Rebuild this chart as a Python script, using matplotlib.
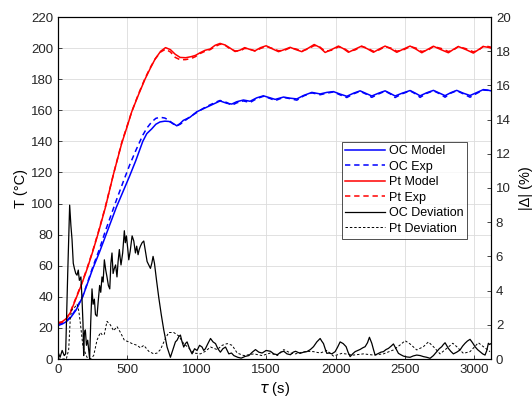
import numpy as np
import matplotlib
matplotlib.use('Agg')
import matplotlib.pyplot as plt
from matplotlib.lines import Line2D

plt.rcParams['font.family'] = ['Liberation Sans', 'DejaVu Sans']
plt.rcParams['mathtext.fontset'] = 'dejavusans'

# Pt model / exp temperature (left axis, degC)
t_pt = [0, 30, 60, 90, 130, 170, 210, 250, 290, 340, 400, 460, 500, 531, 580, 627, 665, 700, 740, 775,
        810, 845, 880, 920, 960, 990, 1024, 1060, 1096, 1132, 1168, 1204, 1240, 1276, 1312, 1345, 1380,
        1420, 1460, 1500, 1545, 1589, 1630, 1673, 1715, 1757, 1800, 1846, 1885, 1925, 1970, 2021, 2057,
        2093, 2140, 2188, 2230, 2273, 2315, 2357, 2400, 2441, 2490, 2537, 2580, 2621, 2665, 2705, 2760,
        2813, 2850, 2885, 2940, 2993, 3030, 3065, 3100, 3120]
pt_model = [23.4, 24, 26, 30, 39, 48, 58, 69, 81, 97, 119, 139, 150, 159, 170, 180, 187, 193, 198, 200.3,
            199, 196, 194, 193.8, 194.5, 195.3, 197, 198.6, 199.4, 201.8, 203, 202, 200, 197.8, 198.7, 200.3, 199.2,
            198.3, 200.3, 201.5, 199.5, 197.7, 199, 200.5, 199, 197.7, 199.8, 202.3, 200.5, 197.2, 199, 201.3, 199.6,
            197.3, 199.3, 201.3, 199.5, 197.3, 199.4, 201.3, 199.5, 197.3, 199.4, 201.3, 199.3, 197, 199.2, 201.2, 199,
            197, 199.2, 201, 199, 196.8, 199, 201, 200.5, 200]
pt_exp = [23, 23.6, 25.8, 30.5, 39.5, 48.5, 58.5, 69.5, 81.5, 97.5, 119, 139.5, 150.5, 159, 170.5, 180.5, 187.5, 193, 197.5, 199.3,
          197.5, 194, 192.5, 192.6, 193.3, 194.5, 196.5, 198, 199, 201, 202.5, 201.8, 199.5, 198.2, 198.2, 199.8, 199.4,
          198, 199.8, 201, 199.8, 198.3, 198.5, 200.2, 199.4, 198.2, 199.4, 201.6, 200.8, 198, 198.6, 200.8, 200,
          197.9, 198.8, 201, 200, 197.9, 198.9, 200.9, 200, 198, 198.9, 201, 200, 197.8, 198.6, 201, 199.8,
          197.8, 198.8, 201, 199.6, 197.6, 198.6, 201.2, 201, 200.6]

# OC model / exp temperature (left axis, degC)
t_oc = [0, 30, 60, 94, 130, 178, 214, 250, 300, 340, 380, 420, 470, 515, 560, 611, 640, 675, 705, 735,
        770, 800, 830, 856, 880, 903, 951, 999, 1048, 1096, 1144, 1168, 1216, 1252, 1288, 1336, 1384, 1432,
        1480, 1528, 1565, 1625, 1670, 1721, 1769, 1829, 1889, 1937, 1985, 2030, 2081, 2130, 2177, 2220, 2261,
        2310, 2357, 2395, 2429, 2480, 2537, 2575, 2609, 2655, 2705, 2750, 2789, 2830, 2873, 2920, 2969, 3020,
        3065, 3100, 3120]
oc_model = [21.5, 22.5, 24, 27, 31.5, 40, 49, 58, 69, 78.5, 88, 97.5, 108, 117.5, 127.5, 140, 145, 148, 151, 152.5,
            153, 152.8, 151.5, 150, 151.5, 153.5, 155.5, 159, 161, 163, 165, 166, 164.5, 164, 165.5, 166.6, 165.8, 168,
            169.3, 168, 167, 168.5, 167.8, 167.3, 169.5, 171.5, 170.5, 171.5, 172, 170.5, 169, 171, 172.5, 170.8, 169.2,
            171, 172.5, 170.8, 169.2, 171, 172.7, 171, 169.3, 171.2, 172.8, 171, 169.4, 171.3, 172.8, 171, 169.5, 171.5,
            173.3, 172.9, 172.5]
oc_exp = [22.5, 23, 24.5, 27.5, 32, 40.5, 49.5, 59, 71, 82, 92, 102, 114, 124.5, 134, 144, 148.5, 152.5, 154.8, 155.5,
          155, 153.5, 151.2, 150, 151, 152.5, 155.8, 158.5, 161.3, 163.5, 165.5, 166.3, 165, 163.2, 164.8, 166, 165, 167.5,
          169, 167.6, 166.2, 168.3, 167.5, 166.5, 169.2, 171.2, 170, 171, 171.8, 170, 168.2, 170.6, 172.2, 170.4, 168.3,
          170.5, 172.3, 170.5, 168.2, 170.6, 172.5, 170.6, 168.3, 170.8, 172.6, 170.6, 168.4, 171, 172.6, 170.6, 168.4, 171,
          173, 172.8, 172.6]

# deviations (right axis, %)
t_ocdev = [0, 15, 30, 45, 55, 70, 84, 93, 101, 110, 118, 128, 137, 146, 154, 165, 173, 180, 185, 190, 197, 205, 214,
           222, 228, 236, 245, 253, 262, 270, 281, 290, 300, 308, 317, 325, 334, 344, 353, 363, 373, 381, 389, 397,
           406, 415, 425, 433, 442, 448, 454, 466, 478, 485, 493, 502, 510, 520, 534, 546, 558, 567, 577, 585, 594,
           606, 618, 630, 642, 654, 666, 676, 685, 690, 695, 710, 726, 744, 762, 786, 810, 822, 834, 846, 858, 870,
           882, 894, 906, 918, 930, 948, 966, 984, 1002, 1020, 1038, 1050, 1062, 1080, 1099, 1117, 1135, 1152, 1170,
           1188, 1207, 1219, 1231, 1250, 1267, 1295, 1320, 1348, 1375, 1400, 1423, 1447, 1471, 1500, 1531, 1555, 1580,
           1605, 1627, 1650, 1675, 1695, 1712, 1745, 1770, 1793, 1818, 1841, 1865, 1889, 1900, 1913, 1925, 1937, 1955,
           1973, 1997, 2015, 2033, 2055, 2076, 2090, 2105, 2123, 2141, 2160, 2177, 2195, 2213, 2230, 2244, 2261, 2275,
           2285, 2309, 2327, 2345, 2363, 2381, 2400, 2417, 2435, 2453, 2470, 2489, 2513, 2537, 2560, 2585, 2610, 2633,
           2657, 2681, 2705, 2729, 2747, 2765, 2777, 2789, 2800, 2813, 2830, 2849, 2873, 2897, 2915, 2933, 2950, 2969,
           2987, 3005, 3023, 3041, 3060, 3077, 3090, 3101, 3110, 3120]
oc_dev = [0.4, 0.1, 0.5, 0.2, 0.3, 5.0, 9.0, 7.8, 7.0, 5.6, 5.3, 5.0, 4.9, 5.2, 4.6, 4.8, 3.5, 2.1, 0.2, 1.5, 1.7, 0.8, 1.1,
          0.5, 0.0, 2.2, 4.1, 3.2, 3.5, 2.6, 2.5, 3.4, 4.3, 3.9, 4.8, 4.5, 5.8, 5.2, 4.8, 4.3, 4.1, 5.6, 6.2, 5.0,
          5.3, 5.5, 4.8, 5.7, 6.4, 5.9, 5.5, 6.2, 7.5, 6.8, 7.2, 6.5, 5.8, 6.3, 7.2, 6.9, 6.2, 6.6, 6.1, 6.4, 6.6,
          6.8, 6.9, 6.3, 5.7, 5.5, 5.3, 5.6, 6.0, 5.8, 5.6, 4.6, 3.6, 2.6, 1.7, 0.7, 0.1, 0.4, 0.7, 1.0, 1.1, 1.3,
          1.4, 1.0, 0.7, 0.9, 1.0, 0.6, 0.3, 0.6, 0.5, 0.8, 0.7, 0.5, 0.6, 0.9, 1.2, 1.0, 0.9, 0.6, 0.4,
          0.6, 0.7, 0.5, 0.3, 0.35, 0.2, 0.1, 0.05, 0.15, 0.2, 0.4, 0.55, 0.4, 0.35, 0.5, 0.45, 0.3, 0.25,
          0.4, 0.45, 0.3, 0.25, 0.4, 0.45, 0.33, 0.4, 0.43, 0.55, 0.72, 1.0, 1.2, 1.05, 0.9, 0.6, 0.33, 0.35,
          0.3, 0.43, 0.7, 1.0, 0.9, 0.72, 0.4, 0.14, 0.3, 0.43, 0.5, 0.56, 0.65, 0.72, 0.95, 1.27, 0.92, 0.5,
          0.23, 0.33, 0.4, 0.43, 0.55, 0.62, 0.75, 0.88, 0.6, 0.33, 0.25, 0.17, 0.12, 0.1, 0.18, 0.23, 0.2, 0.14,
          0.1, 0.04, 0.2, 0.43, 0.6, 0.72, 0.85, 0.95, 0.8, 0.62, 0.45, 0.3, 0.4, 0.53, 0.75, 0.92, 1.05, 1.15,
          0.95, 0.72, 0.55, 0.43, 0.3, 0.23, 0.5, 0.92, 0.85, 0.9]

t_ptdev = [0, 60, 77, 89, 101, 118, 137, 150, 161, 180, 209, 233, 257, 281, 305, 320, 334, 353, 377, 401, 425, 450,
           478, 510, 534, 570, 594, 618, 654, 690, 714, 738, 774, 798, 834, 870, 906, 942, 978, 1026, 1062, 1099,
           1147, 1183, 1219, 1255, 1291, 1339, 1411, 1471, 1531, 1580, 1627, 1675, 1712, 1760, 1800, 1841, 1890,
           1937, 1985, 2045, 2129, 2201, 2273, 2345, 2417, 2465, 2501, 2537, 2585, 2633, 2669, 2705, 2753, 2801,
           2845, 2873, 2921, 2969, 3029, 3065, 3113]
pt_dev = [0, 0, 0.55, 2.45, 2.9, 3.0, 3.2, 2.8, 2.1, 0.7, 0.1, 0, 0.2, 1.1, 1.55, 1.4, 1.45, 2.2, 2.0, 1.65, 1.9, 1.55,
          1.1, 1.0, 0.9, 0.8, 0.65, 0.8, 0.45, 0.3, 0.35, 0.55, 1.2, 1.55, 1.55, 1.35, 0.9, 0.65, 0.35, 0.3, 0.45, 0.7,
          0.55, 0.8, 0.9, 0.8, 0.35, 0.2, 0.3, 0.2, 0.35, 0.2, 0.55, 0.35, 0.3, 0.4, 0.45, 0.43, 0.35,
          0.5, 0.17, 0.33, 0.23, 0.3, 0.23, 0.3, 0.53, 0.82, 1.07, 0.88, 0.53, 0.72, 1.0, 0.72, 0.3, 0.62,
          0.92, 0.72, 0.33, 0.43, 0.95, 0.72, 0.43]

fig = plt.figure(figsize=(5.32, 4.01), dpi=100)
ax = fig.add_axes([58 / 532, 1 - 359 / 401, 433 / 532, 342 / 401])
ax2 = ax.twinx()

ax.plot(t_oc, oc_model, color='#0000ff', lw=1.1)
ax.plot(t_oc, oc_exp, color='#0000ff', lw=1.1, ls=(0, (3.5, 2.5)))
ax.plot(t_pt, pt_model, color='#ff0000', lw=1.1)
ax.plot(t_pt, pt_exp, color='#ff0000', lw=1.1, ls=(0, (3.5, 2.5)))
ax2.plot(t_ocdev, oc_dev, color='black', lw=0.9)
ax2.plot(t_ptdev, pt_dev, color='black', lw=0.7, ls=(0, (2.5, 2)))

ax.set_xlim(0, 3120)
ax.set_ylim(0, 220)
ax2.set_ylim(0, 20)
ax.set_xticks(np.arange(0, 3001, 500))
ax.set_yticks(np.arange(0, 221, 20))
ax2.set_yticks(np.arange(0, 21, 2))
ax.grid(True, color='#dcdcdc', lw=0.6)
ax.set_axisbelow(True)

for a in (ax, ax2):
    a.tick_params(direction='in', length=3, width=0.6, labelsize=9.5, colors='#262626')
    for s in a.spines.values():
        s.set_linewidth(0.8)
        s.set_color('black')

ax.set_xlabel(r'$\tau$ (s)', fontsize=10.5, labelpad=3)
ax.set_ylabel('T (°C)', fontsize=10.5, labelpad=2)
ax2.set_ylabel('|Δ| (%)', fontsize=10.5, labelpad=6)

handles = [
    Line2D([], [], color='#0000ff', lw=1.1),
    Line2D([], [], color='#0000ff', lw=1.1, ls=(0, (3.5, 2.5))),
    Line2D([], [], color='#ff0000', lw=1.1),
    Line2D([], [], color='#ff0000', lw=1.1, ls=(0, (3.5, 2.5))),
    Line2D([], [], color='black', lw=0.9),
    Line2D([], [], color='black', lw=0.7, ls=(0, (2.5, 2))),
]
labels = ['OC Model', 'OC Exp', 'Pt Model', 'Pt Exp', 'OC Deviation', 'Pt Deviation']
leg = ax2.legend(handles, labels, loc='upper left', bbox_to_anchor=(341.5 / 532, 1 - 141.5 / 401),
                 bbox_transform=fig.transFigure, borderaxespad=0, fontsize=9, frameon=True,
                 fancybox=False, handlelength=3.2, handletextpad=0.3, labelspacing=0.28,
                 borderpad=0.3)
leg.get_frame().set_edgecolor('black')
leg.get_frame().set_linewidth(0.6)

fig.savefig('out.png', dpi=100)
